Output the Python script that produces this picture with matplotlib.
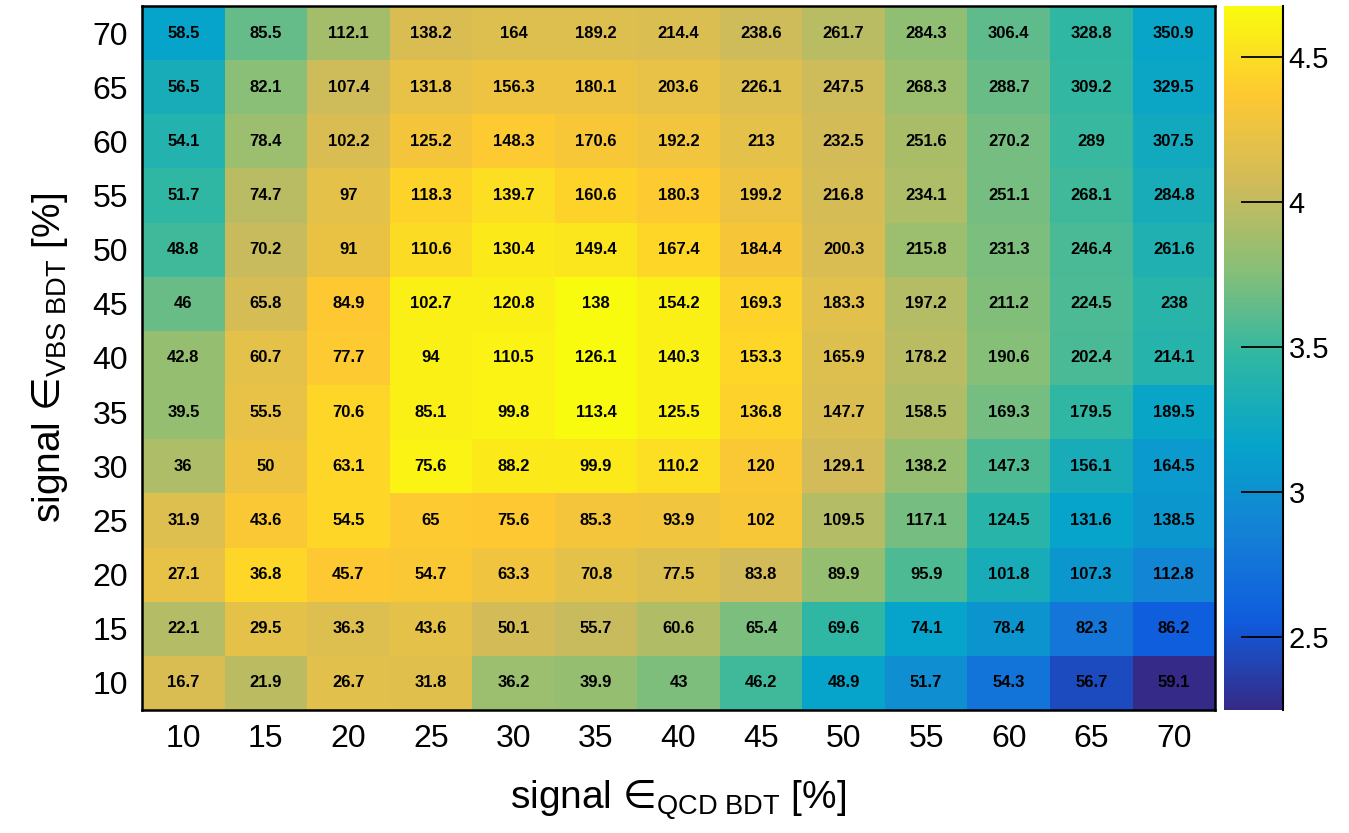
import matplotlib
matplotlib.use("Agg")
import matplotlib.pyplot as plt
import numpy as np
from matplotlib.colors import LinearSegmentedColormap

plt.rcParams['font.family'] = ['Liberation Sans', 'DejaVu Sans']
plt.rcParams['mathtext.fontset'] = 'custom'
plt.rcParams['mathtext.rm'] = 'Liberation Sans'
plt.rcParams['mathtext.it'] = 'Liberation Sans:italic'
plt.rcParams['mathtext.bf'] = 'Liberation Sans:bold'
plt.rcParams['mathtext.sf'] = 'DejaVu Sans'
plt.rcParams['mathtext.fallback'] = 'stixsans'

# efficiency cut points (percent)
qcd_eff = [10, 15, 20, 25, 30, 35, 40, 45, 50, 55, 60, 65, 70]
vbs_eff = [10, 15, 20, 25, 30, 35, 40, 45, 50, 55, 60, 65, 70]

# cell text (signal yields), rows = vbs_eff from 10 up to 70
yields = [
    [16.7, 21.9, 26.7, 31.8, 36.2, 39.9, 43, 46.2, 48.9, 51.7, 54.3, 56.7, 59.1],
    [22.1, 29.5, 36.3, 43.6, 50.1, 55.7, 60.6, 65.4, 69.6, 74.1, 78.4, 82.3, 86.2],
    [27.1, 36.8, 45.7, 54.7, 63.3, 70.8, 77.5, 83.8, 89.9, 95.9, 101.8, 107.3, 112.8],
    [31.9, 43.6, 54.5, 65, 75.6, 85.3, 93.9, 102, 109.5, 117.1, 124.5, 131.6, 138.5],
    [36, 50, 63.1, 75.6, 88.2, 99.9, 110.2, 120, 129.1, 138.2, 147.3, 156.1, 164.5],
    [39.5, 55.5, 70.6, 85.1, 99.8, 113.4, 125.5, 136.8, 147.7, 158.5, 169.3, 179.5, 189.5],
    [42.8, 60.7, 77.7, 94, 110.5, 126.1, 140.3, 153.3, 165.9, 178.2, 190.6, 202.4, 214.1],
    [46, 65.8, 84.9, 102.7, 120.8, 138, 154.2, 169.3, 183.3, 197.2, 211.2, 224.5, 238],
    [48.8, 70.2, 91, 110.6, 130.4, 149.4, 167.4, 184.4, 200.3, 215.8, 231.3, 246.4, 261.6],
    [51.7, 74.7, 97, 118.3, 139.7, 160.6, 180.3, 199.2, 216.8, 234.1, 251.1, 268.1, 284.8],
    [54.1, 78.4, 102.2, 125.2, 148.3, 170.6, 192.2, 213, 232.5, 251.6, 270.2, 289, 307.5],
    [56.5, 82.1, 107.4, 131.8, 156.3, 180.1, 203.6, 226.1, 247.5, 268.3, 288.7, 309.2, 329.5],
    [58.5, 85.5, 112.1, 138.2, 164, 189.2, 214.4, 238.6, 261.7, 284.3, 306.4, 328.8, 350.9],
]

# colour values (significance)
signif = [
    [4.12, 3.98, 4.18, 4.17, 3.85, 3.83, 3.73, 3.52, 3.15, 2.97, 2.75, 2.45, 2.25],
    [3.95, 4.20, 4.15, 4.20, 4.08, 4.03, 3.93, 3.72, 3.47, 3.15, 3.02, 2.78, 2.58],
    [4.22, 4.45, 4.37, 4.35, 4.27, 4.20, 4.15, 4.07, 3.83, 3.57, 3.30, 3.05, 2.90],
    [4.15, 4.35, 4.45, 4.38, 4.37, 4.30, 4.28, 4.33, 3.95, 3.70, 3.42, 3.15, 3.05],
    [3.92, 4.25, 4.45, 4.62, 4.57, 4.57, 4.50, 4.35, 4.07, 3.83, 3.57, 3.30, 3.08],
    [3.83, 4.22, 4.45, 4.60, 4.62, 4.67, 4.60, 4.42, 4.13, 3.93, 3.70, 3.47, 3.18],
    [3.83, 4.20, 4.38, 4.60, 4.62, 4.67, 4.60, 4.45, 4.15, 3.97, 3.76, 3.55, 3.40],
    [3.67, 4.10, 4.37, 4.60, 4.60, 4.67, 4.60, 4.42, 4.18, 3.95, 3.74, 3.56, 3.42],
    [3.52, 4.03, 4.23, 4.48, 4.57, 4.55, 4.45, 4.32, 4.12, 3.85, 3.72, 3.55, 3.35],
    [3.47, 3.97, 4.20, 4.43, 4.50, 4.43, 4.38, 4.25, 4.10, 3.92, 3.70, 3.52, 3.30],
    [3.38, 3.85, 4.12, 4.30, 4.38, 4.33, 4.28, 4.20, 4.08, 3.90, 3.70, 3.50, 3.25],
    [3.30, 3.77, 4.05, 4.22, 4.25, 4.25, 4.22, 4.15, 4.05, 3.85, 3.67, 3.48, 3.20],
    [3.15, 3.65, 3.88, 4.12, 4.15, 4.15, 4.13, 4.05, 3.97, 3.80, 3.63, 3.47, 3.17],
]

# ROOT kBird palette
bird_stops = [0.0, 0.125, 0.25, 0.375, 0.5, 0.625, 0.75, 0.875, 1.0]
bird_r = [0.2082, 0.0592, 0.0780, 0.0232, 0.1802, 0.5301, 0.8186, 0.9956, 0.9764]
bird_g = [0.1664, 0.3599, 0.5041, 0.6419, 0.7178, 0.7492, 0.7328, 0.7862, 0.9832]
bird_b = [0.5293, 0.8684, 0.8385, 0.7914, 0.6425, 0.4662, 0.3499, 0.1968, 0.0539]
bird = LinearSegmentedColormap.from_list(
    'bird', list(zip(bird_stops, zip(bird_r, bird_g, bird_b))))

z = np.array(signif)
x_edges = np.array(qcd_eff + [qcd_eff[-1] + 5]) - 2.5
y_edges = np.array(vbs_eff + [vbs_eff[-1] + 5]) - 2.5

fig = plt.figure(figsize=(13.49, 8.33), dpi=100)
ax = fig.add_axes([0.1053, 0.1477, 0.7954, 0.8451])
cax = fig.add_axes([0.9073, 0.1477, 0.0437, 0.8451])

mesh = ax.pcolormesh(x_edges, y_edges, z, cmap=bird, vmin=2.25, vmax=4.675)
for i, yv in enumerate(vbs_eff):
    for j, xv in enumerate(qcd_eff):
        ax.text(xv, yv, f"{yields[i][j]:g}", ha='center', va='center',
                fontsize=12, fontweight='bold', color='black')

ax.set_xlim(x_edges[0], x_edges[-1])
ax.set_ylim(y_edges[0], y_edges[-1])
ax.set_xticks(qcd_eff)
ax.set_yticks(vbs_eff)
ax.tick_params(axis='both', length=0, labelsize=23, pad=10)
for sp in ax.spines.values():
    sp.set_linewidth(1.8)
ax.set_xlabel("signal $\\mathsf{\u2208}_{\\mathrm{QCD\\ BDT}}$ [%]", fontsize=28, labelpad=18)
ax.set_ylabel("signal $\\mathsf{\u2208}_{\\mathrm{VBS\\ BDT}}$ [%]", fontsize=28, labelpad=16)

cb = fig.colorbar(mesh, cax=cax)
cb.outline.set_visible(False)
cax.axvline(1, color='black', lw=1.5, clip_on=False)
cb.set_ticks([2.5, 3, 3.5, 4, 4.5])
cb.set_ticklabels(['2.5', '3', '3.5', '4', '4.5'])
cax.yaxis.set_ticks_position('right')
cax.tick_params(axis='y', direction='in', length=30, width=1.3, labelsize=21, pad=4)

fig.savefig("out.png", dpi=100)
